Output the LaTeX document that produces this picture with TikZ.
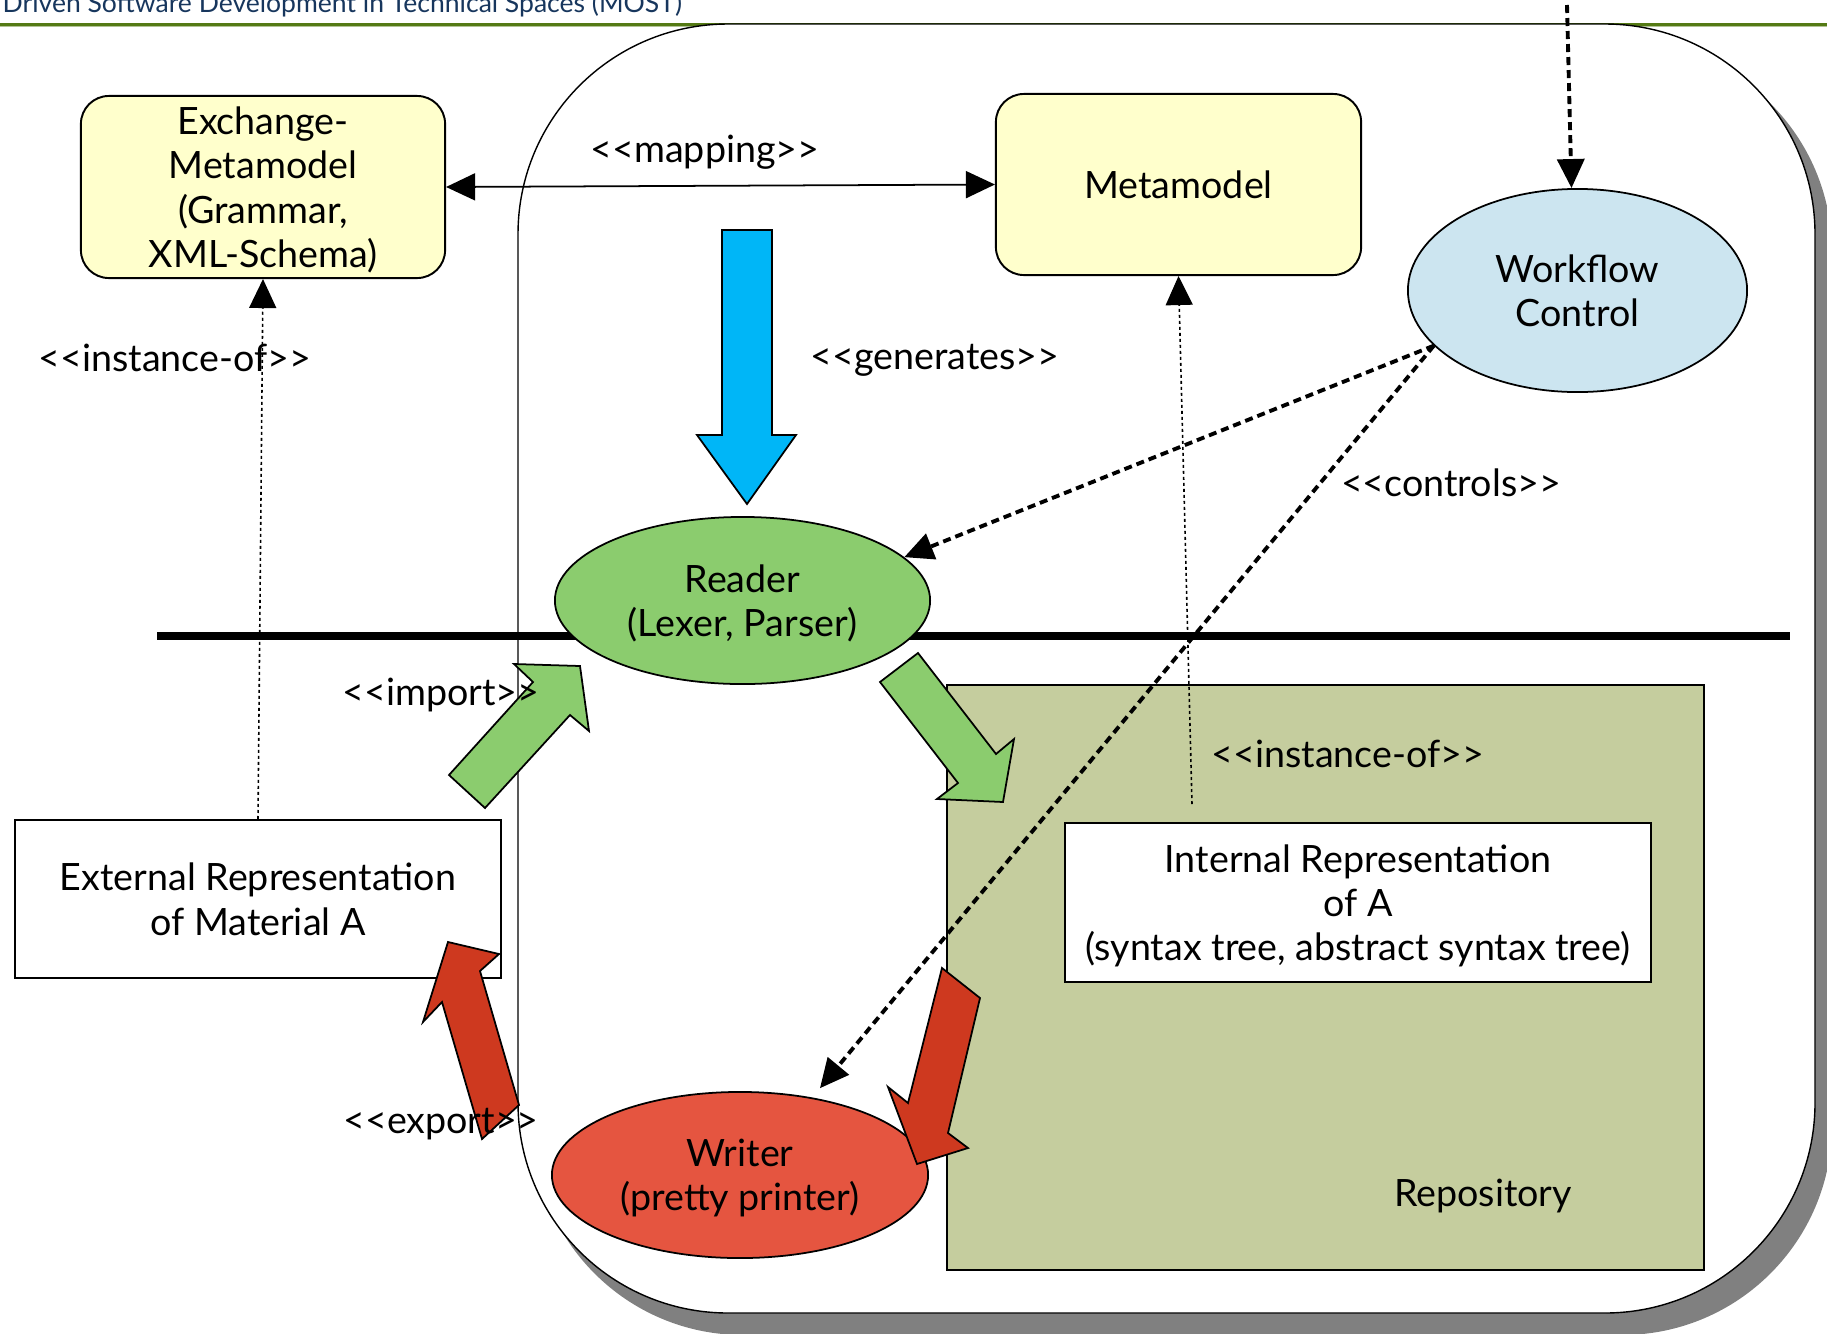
\documentclass[tikz,border=0pt]{standalone}
\usepackage{fontspec}
\setmainfont{Lato}
\usepackage{xcolor}
\usetikzlibrary{shapes.geometric, arrows.meta, calc}

\definecolor{hdrblue}{RGB}{23,54,93}
\definecolor{hdrgreen}{RGB}{84,122,20}
\definecolor{boxyellow}{RGB}{255,255,204}
\definecolor{wfblue}{RGB}{204,229,240}
\definecolor{rdgreen}{RGB}{139,204,110}
\definecolor{wrred}{RGB}{229,85,64}
\definecolor{exred}{RGB}{206,57,31}
\definecolor{repoolive}{RGB}{197,205,158}
\definecolor{genblue}{RGB}{0,182,247}
\definecolor{shadowgray}{RGB}{128,128,128}

\newcommand{\stereo}[1]{<{}<#1>{}>}

\begin{document}
\begin{tikzpicture}[
    x=0.01cm, y=-0.01cm,
    font=\fontsize{10.7}{12.6}\selectfont,
    box/.style={rectangle, draw=black, fill=#1, line width=0.55pt, align=center, inner sep=0pt, text depth=0pt},
    box/.default={white},
    oval/.style={ellipse, draw=black, fill=#1, line width=0.5pt, align=center, inner sep=0pt, text depth=0pt},
    arrow/.style={-{Triangle[length=0.29cm, width=0.27cm]}, line width=0.5pt},
    dotline/.style={arrow, line width=0.45pt, dash pattern=on 0.03cm off 0.03cm},
    ctrl/.style={arrow, line width=1.1pt, dash pattern=on 0.08cm off 0.05cm},
    blockarrow/.style={draw=black, fill=#1, line width=0.5pt, line join=miter},
    stlabel/.style={inner sep=0pt, anchor=base},
]
\useasboundingbox (0,0) rectangle (1827,1333);

% ── Header ──
\node[anchor=base west, inner sep=0pt, font=\fontsize{7.55}{9}\selectfont, text=hdrblue] (hdr) at (2,12) {Driven Software Development in Technical Spaces (MOST)};
\draw[hdrgreen, line width=0.03cm] (0,24) -- (1827,24);
\draw[hdrgreen!45, line width=0.012cm] (0,26.5) -- (1827,26.5);

% ── Tool frame with shadow ──
\fill[shadowgray, rounded corners=2.1cm] (533,42) rectangle (1832,1335);
\draw[fill=white, line width=0.4pt, rounded corners=2.1cm] (518,24) rectangle (1815,1313);

% ── Divider ──
\coordinate (divL) at (157,636);
\coordinate (divR) at (1790,636);
\draw[line width=0.075cm] (divL) -- (divR);

% ── Metamodels ──
\node[box=boxyellow, rounded corners=0.28cm, minimum width=3.64cm, minimum height=1.82cm] (exch) at (263,187) {Exchange-\\Metamodel\\(Grammar,\\XML-Schema)};
\node[box=boxyellow, rounded corners=0.28cm, minimum width=3.65cm, minimum height=1.81cm] (meta) at (1178.5,184.5) {Metamodel};
\node[oval=wfblue, minimum width=3.39cm, minimum height=2.03cm] (wf) at (1577.5,290.5) {Workflow\\Control};

% ── Repository ──
\node[box=repoolive, minimum width=7.57cm, minimum height=5.85cm] (repo) at (1325.5,977.5) {};
\node[stlabel] (repolbl) at (1483,1206) {Repository};
\node[box, minimum width=5.86cm, minimum height=1.59cm] (intrep) at (1358,902.5) {Internal Representation\\of A\\(syntax tree, abstract syntax tree)};

% ── External material ──
\node[box, minimum width=4.86cm, minimum height=1.58cm] (extrep) at (258,899) {External Representation\\of Material A};

% ── Reader / Writer ──
\node[oval=rdgreen, minimum width=3.75cm, minimum height=1.67cm] (rd) at (742.5,600.5) {Reader\\(Lexer, Parser)};
\node[oval=wrred, minimum width=3.76cm, minimum height=1.66cm] (wr) at (740,1175) {Writer\\(pretty printer)};

% ── Block arrows ──
\draw[blockarrow=genblue] (722,230) -- (772,230) -- (772,435) -- (796,435) -- (747,504) -- (697,435) -- (722,435) -- cycle;
\draw[blockarrow=rdgreen] (580,666) -- (514,664) -- (533,682) -- (449,775) -- (485,808) -- (570,715) -- (589,731) -- cycle;
\draw[blockarrow=rdgreen] (918,653) -- (880,682) -- (958,783) -- (937,799) -- (1003,802) -- (1014,739) -- (996,754) -- cycle;
\draw[blockarrow=exred] (448,942) -- (499,954) -- (480,971) -- (519,1105) -- (482,1139) -- (442,1002) -- (423,1022) -- cycle;
\draw[blockarrow=exred] (942,968) -- (980,998) -- (948,1133) -- (968,1148) -- (917,1164) -- (888,1087) -- (908,1103) -- cycle;

% ── Mapping ──
\draw[arrow, {Triangle[length=0.29cm, width=0.27cm]}-{Triangle[length=0.29cm, width=0.27cm]}] (exch.east) -- (meta.west);

% ── Instance-of ──
\coordinate (instR) at (1192,804);
\draw[dotline] (extrep.north) -- (exch.south);
\draw[dotline] (instR) -- (meta.south);

% ── Workflow control ──
\coordinate (wfin) at (1567,5);
\draw[ctrl] (wfin) -- ($(wf.north)+(-6,0)$);
\draw[ctrl] (wf.201) -- (rd.15);
\draw[ctrl, shorten >=0.12cm] (wf.201) -- (wr.47);

% ── Stereotypes ──
\node[stlabel] (lmap) at (705,162) {\stereo{mapping}};
\node[stlabel] (lgen) at (935,369) {\stereo{generates}};
\node[stlabel] (linsL) at (175,371) {\stereo{instance-of}};
\node[stlabel] (lctrl) at (1451,496) {\stereo{controls}};
\node[stlabel] (limp) at (441,705) {\stereo{import}};
\node[stlabel] (linsR) at (1348,767) {\stereo{instance-of}};
\node[stlabel] (lexp) at (441,1133) {\stereo{export}};

\end{tikzpicture}
\end{document}
